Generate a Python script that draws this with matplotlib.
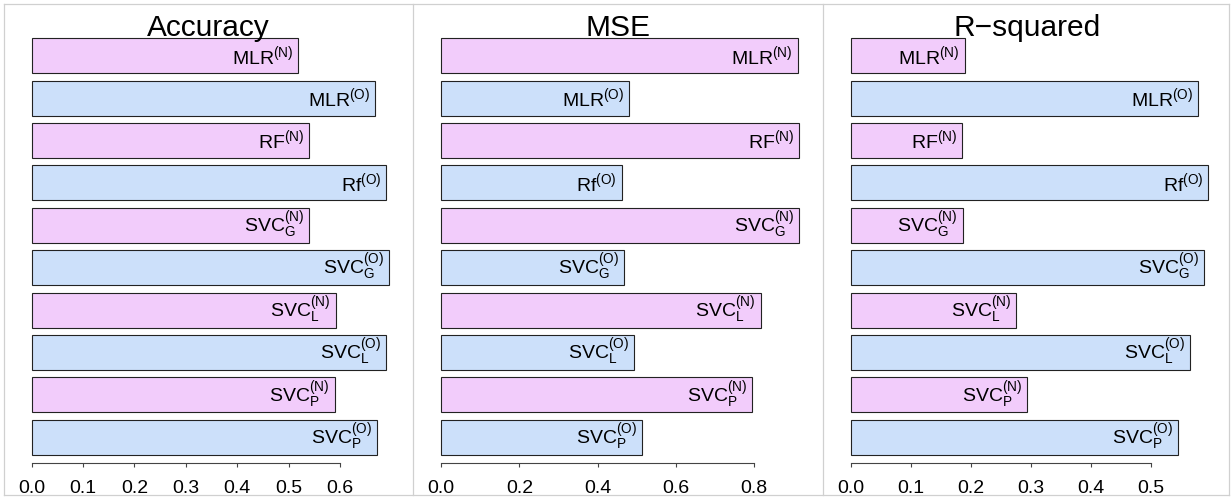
import numpy as np
import matplotlib
matplotlib.use("Agg")
import matplotlib.pyplot as plt
from matplotlib.lines import Line2D

plt.rcParams['font.family'] = 'Liberation Sans'
plt.rcParams['mathtext.fontset'] = 'custom'
plt.rcParams['mathtext.rm'] = 'Liberation Sans'
plt.rcParams['mathtext.it'] = 'Liberation Sans'
plt.rcParams['mathtext.default'] = 'regular'

# models, top to bottom; (N) = new data, (O) = original data
models = ['MLR$^{(N)}$', 'MLR$^{(O)}$', 'RF$^{(N)}$', 'Rf$^{(O)}$',
          'SVC$_G^{(N)}$', 'SVC$_G^{(O)}$', 'SVC$_L^{(N)}$', 'SVC$_L^{(O)}$',
          'SVC$_P^{(N)}$', 'SVC$_P^{(O)}$']
accuracy = [0.519, 0.668, 0.540, 0.690, 0.540, 0.696, 0.592, 0.690, 0.590, 0.673]
mse = [0.912, 0.481, 0.915, 0.4615, 0.915, 0.467, 0.817, 0.494, 0.796, 0.514]
rsquared = [0.190, 0.578, 0.1855, 0.5955, 0.186, 0.588, 0.275, 0.565, 0.294, 0.5445]

titles = ['Accuracy', 'MSE', 'R\u2212squared']
ticks = [np.arange(0, 0.61, 0.1), np.arange(0, 0.81, 0.2), np.arange(0, 0.51, 0.1)]
tick_labels = [['0.0', '0.1', '0.2', '0.3', '0.4', '0.5', '0.6'],
               ['0.0', '0.2', '0.4', '0.6', '0.8'],
               ['0.0', '0.1', '0.2', '0.3', '0.4', '0.5']]

pink = '#F2CCFB'
blue = '#CCE0FA'
colors = [pink if '(N)' in m else blue for m in models]

W, H = 1231, 498
fig = plt.figure(figsize=(W / 100, H / 100), dpi=100)

# pixel layout of each panel: (x of value 0, pixels per unit)
scales = [(31.7, 513.8), (441.3, 390.9), (851.0, 600.0)]
panel_left = [4, 413, 823]
title_x = [208, 618, 1027]
top_px, bot_px = 30, 463
bar_c0, pitch = 55.8, 42.4

for k, vals in enumerate([accuracy, mse, rsquared]):
    x0, ppu = scales[k]
    L, R = panel_left[k] + 6, panel_left[k] + 400
    ax = fig.add_axes([L / W, 1 - bot_px / H, (R - L) / W, (bot_px - top_px) / H])
    ax.set_xlim((L - x0) / ppu, (R - x0) / ppu)
    ax.set_ylim((bot_px - bar_c0) / pitch, (top_px - bar_c0) / pitch)
    pos = np.arange(len(models))
    ax.barh(pos, vals, height=35 / pitch, color=colors, edgecolor='#222222', linewidth=0.8)
    for i, (m, v) in enumerate(zip(models, vals)):
        ax.annotate(m, xy=(v, i), xytext=(-5, 0), textcoords='offset pixels',
                    ha='right', va='center', fontsize=14)
    for s in ['top', 'right', 'left']:
        ax.spines[s].set_visible(False)
    ax.spines['bottom'].set_bounds(ticks[k][0], ticks[k][-1])
    ax.spines['bottom'].set_color('#444444')
    ax.set_xticks(ticks[k])
    ax.set_xticklabels(tick_labels[k])
    ax.tick_params(axis='x', length=3, width=0.8, color='#444444', pad=9, labelsize=14)
    ax.set_yticks([])
    ax.patch.set_visible(False)
    fig.text(title_x[k] / W, 1 - 36 / H, titles[k], ha='center', va='baseline', fontsize=21.5)

# light frames around the three panels
frame = '#D0D0D0'
for x in [4, 413, 823, 1229]:
    fig.add_artist(Line2D([x / W, x / W], [1 - 4 / H, 1 - 495 / H], color=frame, lw=0.9))
for y in [4, 495]:
    fig.add_artist(Line2D([4 / W, 1229 / W], [1 - y / H, 1 - y / H], color=frame, lw=0.9))

fig.savefig('out.png', dpi=100)
